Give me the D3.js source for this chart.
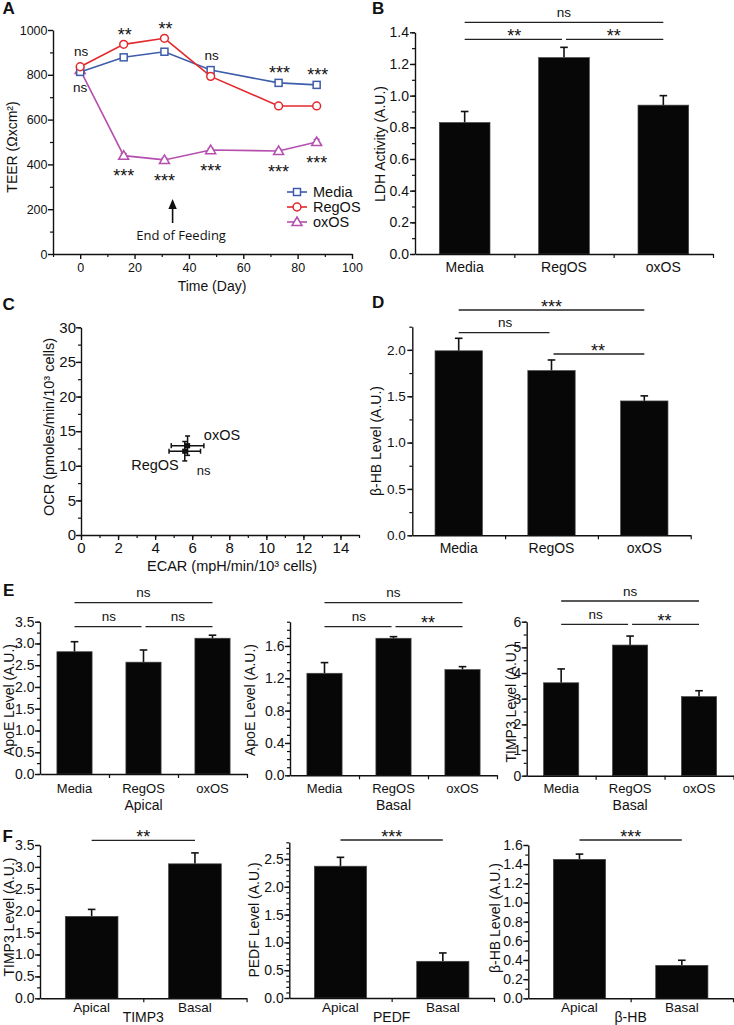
<!DOCTYPE html>
<html><head><meta charset="utf-8">
<script src="https://cdn.jsdelivr.net/npm/d3@7"></script>
<style>
body{margin:0;background:#fff;}
svg text{font-family:"Liberation Sans",Arial,Helvetica,sans-serif;fill:#111;}
</style></head><body>
<script>
// ================= DATA =================
// Panel A - TEER time course
const teerDays=[0,16,31,48,73,87];
const teerMedia=[813,878,903,821,764,755];
const teerMediaErr=[8,8,8,8,12,8];
const teerRegOS=[836,936,963,793,661,661];
const teerRegOSErr=[8,8,8,8,6,6];
const teerOxOS=[822,439,420,464,460,500];
const teerOxOSErr=[8,10,8,8,8,12];
const teerTopSig=["ns","**","**","ns","***","***"];
const teerBottomSig=["ns","***","***","***","***","***"];
const teerYTicks=[0,200,400,600,800,1000];
const teerXTicks=[0,20,40,60,80,100];
const feedingEndDay=34;
const seriesNames=["Media","RegOS","oxOS"];

// Panel B - LDH activity
const groups=["Media","RegOS","oxOS"];
const ldhValues=[0.83,1.24,0.94];
const ldhErr=[0.07,0.065,0.06];
const ldhTicks=[0,0.2,0.4,0.6,0.8,1.0,1.2,1.4];
const ldhSigPairs=[[0,1],[1,2],[0,2]];
const ldhSigLabels=["**","**","ns"];

// Panel C - OCR vs ECAR
const seahorseGroups=["RegOS","oxOS"];
const ecarValues=[5.6,5.75];
const ecarErr=[0.85,0.88];
const ocrValues=[12.1,12.9];
const ocrErr=[1.4,1.4];
const ecarTicks=[0,2,4,6,8,10,12,14];
const ocrTicks=[0,5,10,15,20,25,30];
const seahorseSig="ns";

// Panel D - beta-HB
const bhbValues=[1.99,1.776,1.449];
const bhbErr=[0.135,0.115,0.055];
const bhbTicks=[0,0.5,1.0,1.5,2.0];
const bhbSigPairs=[[0,2],[0,1],[1,2]];
const bhbSigLabels=["***","ns","**"];

// Panel E
const triSigPairs=[[0,2],[0,1],[1,2]];
const apoeApicalValues=[2.81,2.57,3.12];
const apoeApicalErr=[0.23,0.28,0.07];
const apoeApicalTicks=[0,0.5,1.0,1.5,2.0,2.5,3.0,3.5];
const apoeApicalSigLabels=["ns","ns","ns"];
const apoeBasalValues=[1.262,1.695,1.307];
const apoeBasalErr=[0.132,0.02,0.037];
const apoeBasalTicks=[0,0.4,0.8,1.2,1.6];
const apoeBasalSigLabels=["ns","ns","**"];
const timp3BasalValues=[3.62,5.09,3.08];
const timp3BasalErr=[0.54,0.35,0.23];
const timp3BasalTicks=[0,1,2,3,4,5,6];
const timp3BasalSigLabels=["ns","ns","**"];

// Panel F
const sides=["Apical","Basal"];
const sideSigPairs=[[0,1]];
const timp3SideValues=[1.87,3.07];
const timp3SideErr=[0.16,0.25];
const timp3SideTicks=[0,0.5,1.0,1.5,2.0,2.5,3.0,3.5];
const timp3SideSig=["**"];
const pedfSideValues=[2.37,0.66];
const pedfSideErr=[0.16,0.15];
const pedfSideTicks=[0,0.5,1.0,1.5,2.0,2.5];
const pedfSideSig=["***"];
const bhbSideValues=[1.45,0.344];
const bhbSideErr=[0.055,0.053];
const bhbSideTicks=[0,0.2,0.4,0.6,0.8,1.0,1.2,1.4,1.6];
const bhbSideSig=["***"];

// ================= DRAWING =================
const FONT='"Liberation Sans", Arial, Helvetica, sans-serif';
const INK="#111";
const svg=d3.select("body").append("svg").attr("width",734).attr("height",1025).style("display","block");

function panelLabel(t,x,y){svg.append("text").attr("x",x).attr("y",y).attr("font-size",17).attr("font-weight","bold").text(t);}
function yTitle(g,t,cx,cy,fs){g.append("text").attr("transform",`translate(${cx},${cy}) rotate(-90)`).attr("text-anchor","middle").attr("dy","0.35em").attr("font-size",fs).text(t);}
function sigText(g,label,cx,cy){
  const ast=label.indexOf("*")>=0; const fs=ast?18:13.5;
  g.append("text").attr("x",cx).attr("y",cy+(ast?0.57:0.27)*fs).attr("text-anchor","middle").attr("font-size",fs).text(label);
}
function styleAxis(sel,fs){
  sel.attr("font-size",fs).attr("font-family",FONT);
  sel.selectAll("path,line").attr("stroke",INK).attr("stroke-width",1.4);
  sel.selectAll("text").attr("fill",INK);
}
function minorAxis(g,axisFn,scale,vals,size,transform){
  const a=g.append("g").attr("transform",transform).call(axisFn(scale).tickValues(vals).tickSize(size).tickFormat(""));
  a.select(".domain").remove();
  a.selectAll("line").attr("stroke",INK).attr("stroke-width",1.2);
}

// ---------- Panel A ----------
(function(){
  const g=svg.append("g");
  const x=d3.scaleLinear().domain([-10,100]).range([53,352]);
  const y=d3.scaleLinear().domain([0,1000]).range([254,30]);
  minorAxis(g,d3.axisLeft,y,d3.range(100,1000,200),3,"translate(53,0)");
  minorAxis(g,d3.axisBottom,x,[-10,10,30,50,70,90],3,"translate(0,254)");
  const ya=g.append("g").attr("transform","translate(53,0)").call(d3.axisLeft(y).tickValues(teerYTicks).tickSize(5).tickSizeOuter(0).tickPadding(0.5).tickFormat(d3.format("d")));
  styleAxis(ya,12.5);
  const xa=g.append("g").attr("transform","translate(0,254)").call(d3.axisBottom(x).tickValues(teerXTicks).tickSize(5).tickSizeOuter(0).tickPadding(3.8).tickFormat(d3.format("d")));
  styleAxis(xa,12.5);
  yTitle(g,"TEER (Ωxcm²)",12,147,14);
  g.append("text").attr("x",212).attr("y",291).attr("text-anchor","middle").attr("font-size",14).text("Time (Day)");

  const series=[
    {name:seriesNames[2],vals:teerOxOS,err:teerOxOSErr,color:"#b54fae",shape:"tri"},
    {name:seriesNames[0],vals:teerMedia,err:teerMediaErr,color:"#3d5daa",shape:"sq"},
    {name:seriesNames[1],vals:teerRegOS,err:teerRegOSErr,color:"#e3282d",shape:"circ"}
  ];
  function marker(sel,shape,color){
    if(shape==="sq") sel.append("rect").attr("x",-3.5).attr("y",-3.5).attr("width",7).attr("height",7);
    else if(shape==="circ") sel.append("circle").attr("r",3.9);
    else sel.append("path").attr("d","M0,-5L5,3.6L-5,3.6Z");
    sel.selectAll("rect,circle,path").attr("fill","#fff").attr("stroke",color).attr("stroke-width",1.5);
  }
  const line=d3.line().x((d,i)=>x(teerDays[i])).y(d=>y(d));
  series.forEach(s=>{
    const sg=g.append("g");
    sg.append("path").attr("d",line(s.vals)).attr("fill","none").attr("stroke",s.color).attr("stroke-width",1.6);
    s.vals.forEach((v,i)=>{
      const cx=x(teerDays[i]);
      sg.append("line").attr("x1",cx).attr("x2",cx).attr("y1",y(v-s.err[i])).attr("y2",y(v+s.err[i])).attr("stroke",s.color).attr("stroke-width",1.3);
      [v-s.err[i],v+s.err[i]].forEach(e=>sg.append("line").attr("x1",cx-3).attr("x2",cx+3).attr("y1",y(e)).attr("y2",y(e)).attr("stroke",s.color).attr("stroke-width",1.3));
    });
    s.vals.forEach((v,i)=>{
      const m=sg.append("g").attr("transform",`translate(${x(teerDays[i])},${y(v)})`);
      marker(m,s.shape,s.color);
    });
  });
  // significance labels
  teerDays.forEach((d,i)=>{
    const top=Math.max(teerMedia[i],teerRegOS[i],teerOxOS[i]);
    const bot=Math.min(teerMedia[i],teerRegOS[i],teerOxOS[i]);
    sigText(g,teerTopSig[i],x(d)+1,y(top)-14);
    sigText(g,teerBottomSig[i],x(d),y(bot)+16.5);
  });
  // arrow
  const ax=x(feedingEndDay);
  g.append("line").attr("x1",ax).attr("x2",ax).attr("y1",223).attr("y2",206).attr("stroke",INK).attr("stroke-width",1.6);
  g.append("path").attr("d",`M${ax},199L${ax+4.2},209L${ax-4.2},209Z`).attr("fill",INK);
  g.append("text").attr("x",ax+8.5).attr("y",240).attr("text-anchor","middle").attr("font-size",13).style("font-family","'Open Sans',sans-serif").text("End of Feeding");
  // legend
  const legendOrder=[series[1],series[2],series[0]];
  legendOrder.forEach((s,k)=>{
    const ly=192+k*15;
    g.append("line").attr("x1",287).attr("x2",307).attr("y1",ly).attr("y2",ly).attr("stroke",s.color).attr("stroke-width",1.6);
    const m=g.append("g").attr("transform",`translate(297,${ly})`); marker(m,s.shape,s.color);
    g.append("text").attr("x",313).attr("y",ly+5.1).attr("font-size",14.5).text(s.name);
  });
})();

// ---------- Bar panels ----------
function barPanel(o){
  const g=svg.append("g");
  const n=o.cats.length;
  const x=d3.scaleBand().domain(o.cats).range([o.x0,o.x1]).paddingInner(0.49).paddingOuter(0.245);
  const y=d3.scaleLinear().domain([0,o.ymax]).range([o.yb,o.yt]);
  const cx=i=>x(o.cats[i])+x.bandwidth()/2;
  // error bars
  o.values.forEach((v,i)=>{
    const c=cx(i);
    g.append("line").attr("x1",c).attr("x2",c).attr("y1",y(v)).attr("y2",y(v+o.errs[i])).attr("stroke",INK).attr("stroke-width",1.6);
    g.append("line").attr("x1",c-3.8).attr("x2",c+3.8).attr("y1",y(v+o.errs[i])).attr("y2",y(v+o.errs[i])).attr("stroke",INK).attr("stroke-width",1.6);
  });
  // bars
  g.selectAll("rect.bar").data(o.values).join("rect").attr("class","bar")
    .attr("x",(d,i)=>x(o.cats[i])).attr("y",d=>y(d)).attr("width",x.bandwidth()).attr("height",d=>y(0)-y(d))
    .attr("fill","#070707").attr("stroke","#444").attr("stroke-width",0.7);
  // axes
  minorAxis(g,d3.axisLeft,y,d3.range(0,o.ymax+1e-9,o.minor),3,`translate(${o.x0},0)`);
  const ya=g.append("g").attr("transform",`translate(${o.x0},0)`).call(d3.axisLeft(y).tickValues(o.ticks).tickSize(5).tickSizeOuter(0).tickPadding(o.ypad).tickFormat(d3.format(o.fmt)));
  styleAxis(ya,o.yfs);
  const xa=g.append("g").attr("transform",`translate(0,${o.yb})`).call(d3.axisBottom(x).tickSize(0).tickSizeOuter(0).tickPadding(o.xbase-0.71*o.xfs));
  styleAxis(xa,o.xfs);
  const xl=d3.scaleLinear().domain([0,n]).range([o.x0,o.x1]);
  minorAxis(g,d3.axisBottom,xl,d3.range(1,n+1),4,`translate(0,${o.yb})`);
  // significance brackets
  o.sigPairs.forEach((p,k)=>{
    const [a,b]=p;
    const x1=cx(a)+((b-a===1&&a>0)?2:0);
    const x2=cx(b)-((b-a===1&&b<n-1)?2:0);
    const ly=o.sigY[k];
    g.append("line").attr("x1",x1).attr("x2",x2).attr("y1",ly).attr("y2",ly).attr("stroke","#222").attr("stroke-width",1.3);
    const lab=o.sigLabels[k];
    sigText(g,lab,(cx(a)+cx(b))/2,ly-(lab.indexOf("*")>=0?7.5:9));
  });
  yTitle(g,o.ylabel,o.ylx,o.yly,14);
  if(o.group){
    g.append("text").attr("x",o.groupX!==undefined?o.groupX:(o.x0+o.x1)/2).attr("y",o.groupY).attr("text-anchor","middle").attr("font-size",14).text(o.group);
  }
}

// Panel B
barPanel({cats:groups,values:ldhValues,errs:ldhErr,x0:415,x1:713,yb:254,yt:32.3,ymax:1.4,ticks:ldhTicks,minor:0.1,fmt:".1f",
  yfs:14,ypad:1,xfs:14,xbase:17.7,sigPairs:ldhSigPairs,sigLabels:ldhSigLabels,sigY:[39.3,39.3,22.3],
  ylabel:"LDH Activity (A.U.)",ylx:380,yly:144});

// Panel D
barPanel({cats:groups,values:bhbValues,errs:bhbErr,x0:412.3,x1:690.7,yb:535.3,yt:326.7,ymax:2.25,ticks:bhbTicks,minor:0.25,fmt:".1f",
  yfs:13.5,ypad:1.5,xfs:14,xbase:17.7,sigPairs:bhbSigPairs,sigLabels:bhbSigLabels,sigY:[310,332.7,354],
  ylabel:"β-HB Level (A.U.)",ylx:376,yly:441});

// Panel E
barPanel({cats:groups,values:apoeApicalValues,errs:apoeApicalErr,x0:40,x1:247,yb:774,yt:621.7,ymax:3.5,ticks:apoeApicalTicks,minor:0.25,fmt:".1f",
  yfs:14,ypad:0.5,xfs:13,xbase:19,sigPairs:triSigPairs,sigLabels:apoeApicalSigLabels,sigY:[602.7,626.7,626.7],
  ylabel:"ApoE Level (A.U.)",ylx:9,yly:700,group:"Apical",groupY:809.5});
barPanel({cats:groups,values:apoeBasalValues,errs:apoeBasalErr,x0:290,x1:497,yb:775.3,yt:621.7,ymax:1.9,ticks:apoeBasalTicks,minor:0.1,fmt:".1f",
  yfs:14,ypad:0.5,xfs:13,xbase:17.7,sigPairs:triSigPairs,sigLabels:apoeBasalSigLabels,sigY:[602.7,626.7,626.7],
  ylabel:"ApoE Level (A.U.)",ylx:250,yly:700,group:"Basal",groupY:809.5});
barPanel({cats:groups,values:timp3BasalValues,errs:timp3BasalErr,x0:526.7,x1:733.5,yb:775.7,yt:621.7,ymax:6,ticks:timp3BasalTicks,minor:0.5,fmt:"d",
  yfs:14,ypad:0.5,xfs:13,xbase:17.3,sigPairs:triSigPairs,sigLabels:timp3BasalSigLabels,sigY:[601,624.3,624.3],
  ylabel:"TIMP3 Level (A.U.)",ylx:511,yly:703,group:"Basal",groupY:809.5});

// Panel F
barPanel({cats:sides,values:timp3SideValues,errs:timp3SideErr,x0:40,x1:246.6,yb:998.3,yt:845,ymax:3.5,ticks:timp3SideTicks,minor:0.25,fmt:".1f",
  yfs:14,ypad:0.5,xfs:13.5,xbase:13.4,sigPairs:sideSigPairs,sigLabels:timp3SideSig,sigY:[840.3],
  ylabel:"TIMP3 Level (A.U.)",ylx:9,yly:917,group:"TIMP3",groupY:1021.7});
barPanel({cats:sides,values:pedfSideValues,errs:pedfSideErr,x0:289.3,x1:494,yb:998,yt:842.3,ymax:2.8,ticks:pedfSideTicks,minor:0.1,fmt:".1f",
  yfs:14,ypad:0.5,xfs:13.5,xbase:13.6,sigPairs:sideSigPairs,sigLabels:pedfSideSig,sigY:[840],
  ylabel:"PEDF Level (A.U.)",ylx:254,yly:920,group:"PEDF",groupY:1021.7});
barPanel({cats:sides,values:bhbSideValues,errs:bhbSideErr,x0:528.3,x1:733,yb:998.3,yt:845,ymax:1.6,ticks:bhbSideTicks,minor:0.1,fmt:".1f",
  yfs:14,ypad:0.5,xfs:13.5,xbase:13.4,sigPairs:sideSigPairs,sigLabels:bhbSideSig,sigY:[840],
  ylabel:"β-HB Level (A.U.)",ylx:495,yly:918,group:"β-HB",groupY:1021.7});

// ---------- Panel C ----------
(function(){
  const g=svg.append("g");
  const x=d3.scaleLinear().domain([0,15]).range([81,359]);
  const y=d3.scaleLinear().domain([0,30]).range([535,327.3]);
  minorAxis(g,d3.axisLeft,y,d3.range(0,30.01,2.5),3,"translate(81,0)");
  minorAxis(g,d3.axisBottom,x,d3.range(0,15.01,1),3,"translate(0,535)");
  const ya=g.append("g").attr("transform","translate(81,0)").call(d3.axisLeft(y).tickValues(ocrTicks).tickSize(5).tickSizeOuter(0).tickPadding(0));
  styleAxis(ya,15);
  const xa=g.append("g").attr("transform","translate(0,535)").call(d3.axisBottom(x).tickValues(ecarTicks).tickSize(5).tickSizeOuter(0).tickPadding(2.6));
  styleAxis(xa,15);
  yTitle(g,"OCR (pmoles/min/10³ cells)",49,427,14.5);
  g.append("text").attr("x",232).attr("y",571).attr("text-anchor","middle").attr("font-size",14.5).text("ECAR (mpH/min/10³ cells)");
  seahorseGroups.forEach((name,i)=>{
    const px=x(ecarValues[i]), py=y(ocrValues[i]);
    const xl=x(ecarValues[i]-ecarErr[i]), xr=x(ecarValues[i]+ecarErr[i]);
    const yt=y(ocrValues[i]+ocrErr[i]), yb=y(ocrValues[i]-ocrErr[i]);
    const L=(a,b,c,d)=>g.append("line").attr("x1",a).attr("y1",b).attr("x2",c).attr("y2",d).attr("stroke",INK).attr("stroke-width",1.5);
    L(xl,py,xr,py); L(xl,py-2.5,xl,py+2.5); L(xr,py-2.5,xr,py+2.5);
    L(px,yt,px,yb); L(px-2.5,yt,px+2.5,yt); L(px-2.5,yb,px+2.5,yb);
    g.append("rect").attr("x",px-2.6).attr("y",py-2.6).attr("width",5.2).attr("height",5.2).attr("fill",INK);
  });
  const p0x=x(ecarValues[0]), p0y=y(ocrValues[0]);
  const p1x=x(ecarValues[1]), p1y=y(ocrValues[1]);
  g.append("text").attr("x",p1x+16.3).attr("y",p1y-5.7).attr("font-size",14.5).text(seahorseGroups[1]);
  g.append("text").attr("x",p0x-6).attr("y",p0y+19).attr("text-anchor","end").attr("font-size",14.5).text(seahorseGroups[0]);
  g.append("text").attr("x",p0x+12).attr("y",p0y+24).attr("font-size",13).text(seahorseSig);
})();

panelLabel("A",2.5,14);
panelLabel("B",372,14);
panelLabel("C",2.5,310);
panelLabel("D",372,308);
panelLabel("E",3,596);
panelLabel("F",2.5,842);
</script>
</body></html>
